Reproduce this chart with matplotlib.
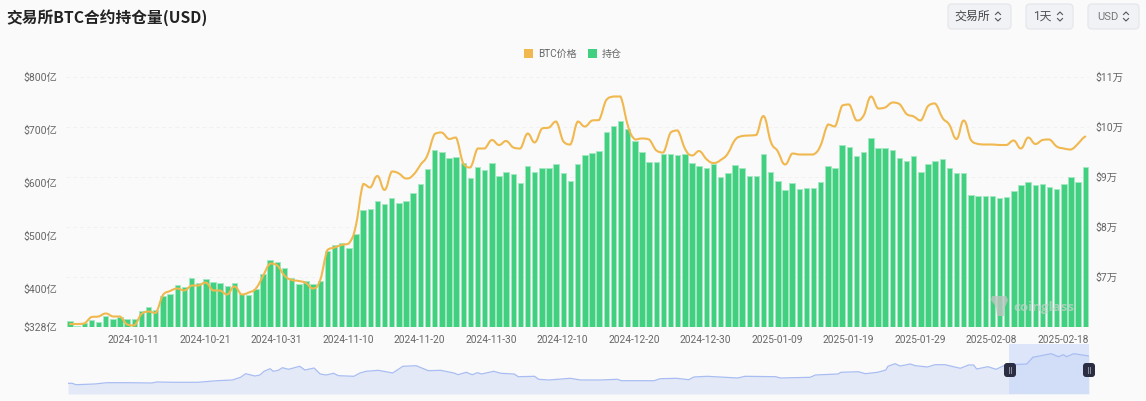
import numpy as np
import pandas as pd
import matplotlib
matplotlib.use("Agg")
import matplotlib.pyplot as plt
from matplotlib.patches import FancyBboxPatch, PathPatch, Patch, Polygon
from matplotlib.path import Path
from matplotlib.lines import Line2D
from matplotlib.transforms import blended_transform_factory

# ---------- data ----------
dates = pd.date_range("2024-10-02", "2025-02-21", freq="D")
open_interest = [339.3,329.9,335,340.6,336.9,348.2,343.1,346.9,343.1,342.5,358.8,365.2,360.1,387.1,390.3,407.9,404.1,419.9,411.6,418.6,
 413.5,411.6,404.8,410.5,390.3,387.8,399.7,428.1,453.9,451.3,440,420.5,409.7,414.8,409.2,415.4,471.5,482.8,486.6,478,
 504.5,548.3,550.8,565.3,559.7,571,562.7,565.3,580.4,597.4,626.9,662.7,659,647.6,648.4,637.1,609.3,629.5,624.4,637.1,
 613.1,621.2,616.3,599.3,631.4,621.2,628.8,628.2,635.2,618.2,603.1,635.2,652.2,656.5,660.3,696.7,706.9,717.5,702.4,678.6,
 658.4,640.1,639,654.6,654.6,652.7,654.6,637.1,631.4,628.8,635.2,610.6,618.8,633.3,628.2,613.1,613.1,654,621.2,604.2,
 586.1,599.9,588,591,591,601.2,631.4,628.2,671,667.3,651.4,658.4,685.4,665.4,666.5,662.2,646.5,641.4,651.4,620.1,
 635.7,642,645.2,628.2,618.2,619.3,577.2,575.9,575.9,574.8,571.6,574,585.3,595.5,601.8,595.5,598,592.3,588.5,597.4,
 611.2,601.8,629.5]
btc_price_k = [60.6,60.6,60.7,62.0,62.1,62.7,62.1,62.1,60.5,60.3,62.6,63.1,62.8,66.4,67.2,67.7,67.3,68.3,68.3,68.9,
 67.3,67.3,66.5,68.1,66.5,66.9,67.7,70.2,72.7,72.3,70.3,69.4,69.2,68.8,67.7,69.4,75.4,75.9,76.4,76.7,
 80.4,88.6,87.9,90.2,87.4,91.1,90.7,89.7,90.4,92.4,94.4,98.6,98.9,97.6,97.9,92.7,91.9,95.7,95.7,97.4,
 96.4,97.2,95.9,95.7,98.7,96.9,99.7,99.9,101.1,97.1,96.5,101.1,100.1,101.3,101.4,105.4,106.1,106.1,100.4,97.5,
 97.7,97.5,95.3,94.9,98.9,99.3,95.7,94.3,95.2,93.6,92.8,93.4,94.7,97.4,98.2,98.3,98.4,102.2,97.1,95.1,
 92.5,94.7,94.5,94.5,94.5,96.4,100.5,100.1,104.3,104.5,101.3,102.3,106.1,103.7,103.9,104.9,104.6,102.6,102.1,101.3,
 104.2,104.7,101.9,100.4,97.6,101.3,97.4,96.6,96.5,96.5,96.4,96.4,97.3,95.7,97.9,96.6,97.4,97.5,96.1,95.7,
 95.5,96.7,98.1]
overview_pct = [0,0.4,0.8,2.6,3.8,6,8.2,8.7,10.3,12.7,14.6,16.1,16.9,17.4,17.8,18.3,18.8,19.2,19.8,20.1,20.6,21,21.6,22.7,23.2,24.1,24.7,25.3,26,26.5,
 28,28.6,29.2,30.4,31.8,32.8,34.1,35.3,36.5,37.8,38.2,39,39.6,40.1,40.5,41.7,42.4,43.7,44.1,45.7,46.1,47.1,49.2,50.2,52.1,
 53.8,54.2,57.4,58,59.6,60.8,61.3,62.6,65.6,66.3,69.3,69.8,72.7,73.2,75.4,75.7,77.4,78.1,79.3,80.1,80.3,81,81.5,82.5,83,
 84.2,84.9,85.9,87.4,88.2,88.7,89,90.1,90.9,91.8,93.9,94.5,96.3,97,97.5,97.8,98.5,100]
overview_val = [10.7,10.7,9.3,10,11.3,11.3,11,12,11.7,11.7,13.3,14,16.7,20.3,19.3,18,19,22.7,25.3,22.7,23.7,26.3,24.7,27.7,24,26,20,19,20.7,18.3,
 17.7,21,22.7,23.7,21,27.7,28.3,23.3,23.7,21,19.3,21.7,19.3,21.3,20,22.7,20.7,20,17.3,17.7,14.7,14,15.7,14,14,
 14.7,13.3,13.3,15.3,15.7,14.3,17,17.7,16,17.7,17.3,16,16.7,19,20,21.7,22.3,20.3,21.7,24,27.7,30.3,28,30,28.3,
 27,29.3,29.3,25.7,29,29,25,27.3,24.7,29,30,36.7,40.3,37.3,39.3,37.3,40.3,38]
left_ticks = [328, 400, 500, 600, 700, 800]
left_labels = ["$328亿", "$400亿", "$500亿", "$600亿", "$700亿", "$800亿"]
right_ticks = [70, 80, 90, 100, 110]
right_labels = ["$7万", "$8万", "$9万", "$10万", "$11万"]
grid_levels = [60, 70, 80, 90, 100, 110]
title = "交易所BTC合约持仓量(USD)"
buttons = ["交易所", "1天", "USD"]

# ---------- style ----------
W, H = 1146, 401
BG = "#fafafa"
GREEN = "#41cf80"
ORANGE = "#f0b84e"
TXT = "#666666"
FONT = ["Roboto", "Noto Sans CJK SC", "DejaVu Sans"]
plt.rcParams["font.family"] = FONT

fig = plt.figure(figsize=(W / 100, H / 100), dpi=100, facecolor=BG)

def axpx(x0, y0, x1, y1, **kw):
    return fig.add_axes([x0 / W, 1 - y1 / H, (x1 - x0) / W, (y1 - y0) / H], **kw)

def fx(x): return x / W
def fy(y): return 1 - y / H

# ---------- main axes ----------
ax = axpx(66.4, 77, 1088.9, 327)
ax.set_facecolor("none")
idx = np.arange(len(dates))
ax.bar(idx, open_interest, width=0.76, color=GREEN, edgecolor="#a5e8c3", linewidth=0.7, zorder=2, bottom=0)
ax.set_xlim(-0.5, len(dates) - 0.5)
ax.set_ylim(328, 800)
ax.set_yticks(left_ticks, left_labels)
tick_idx = idx[9::10]
ax.set_xticks(tick_idx, [dates[i].strftime("%Y-%m-%d") for i in tick_idx])
ax.tick_params(axis="x", length=0, labelcolor=TXT, labelsize=7.3, pad=6)
ax.tick_params(axis="y", length=0, labelcolor=TXT, labelsize=7.5, pad=6.5)
ax.set_xticks(tick_idx - 0.15, [dates[i].strftime("%Y-%m-%d") for i in tick_idx])
for s in ax.spines.values():
    s.set_visible(False)

axr = ax.twinx()
axr.set_facecolor("none")
axr.set_ylim(60, 110)
axr.set_yticks(right_ticks, right_labels)
axr.tick_params(axis="y", length=0, labelcolor=TXT, labelsize=7.5, pad=5)
for s in axr.spines.values():
    s.set_visible(False)

trans = blended_transform_factory(ax.transAxes, axr.transData)
for g in grid_levels:
    ax.add_line(Line2D([0, 1], [g, g], transform=trans, color="#f1f1f1", lw=0.7, ls=(0, (4, 3)), zorder=1))

# smooth price curve, drawn as Bezier segments through the data points
def smooth_path(x, y, k=0.25):
    x = np.asarray(x, float); y = np.asarray(y, float)
    verts = [(x[0], y[0])]; codes = [Path.MOVETO]
    n = len(x)
    for i in range(n - 1):
        p = max(i - 1, 0); q = min(i + 2, n - 1)
        c1y = y[i] + (y[i + 1] - y[p]) * k
        c2y = y[i + 1] - (y[q] - y[i]) * k
        lo, hi = min(y[i], y[i + 1]), max(y[i], y[i + 1])
        c1y = np.clip(c1y, lo, hi); c2y = np.clip(c2y, lo, hi)
        verts += [(x[i] + 0.45, c1y), (x[i + 1] - 0.45, c2y), (x[i + 1], y[i + 1])]
        codes += [Path.CURVE4] * 3
    return Path(verts, codes)

axr.add_patch(PathPatch(smooth_path(idx, btc_price_k), fc="none", ec=ORANGE, lw=1.5,
                        capstyle="round", joinstyle="round", zorder=5))

# legend
handles = [Patch(fc=ORANGE, ec="none", label="BTC价格"), Patch(fc=GREEN, ec="none", label="持仓")]
fig.legend(handles=handles, loc="center", bbox_to_anchor=(fx(573), fy(54)), ncol=2, frameon=False,
           fontsize=7.2, labelcolor=TXT, handlelength=0.9, handleheight=0.9, handletextpad=0.55, columnspacing=1.05)

# watermark
fig.text(fx(1013), fy(307), "coinglass", fontsize=9.6, fontweight="bold", color="#c3d3ca", alpha=0.75,
         va="center", ha="left", family=["Open Sans"], zorder=6)
fig.add_artist(Polygon([(fx(x), fy(y)) for x, y in
    [(992, 296), (1006, 296), (1008, 300), (1005, 307), (1004, 316), (997, 316), (996, 307), (991, 300)]],
    closed=True, fc="#bcc5c0", ec="none", alpha=0.8, zorder=6))

# ---------- title ----------
fig.text(fx(6.5), fy(18), title, fontsize=11.3, fontweight="bold", color="#222222", va="center", ha="left",
         family=["Noto Sans CJK SC", "DejaVu Sans"])

# ---------- selector buttons ----------
bg = fig.add_axes([0, 0, 1, 1], zorder=-1); bg.axis("off")
bg.set_xlim(0, W); bg.set_ylim(H, 0)
boxes = [(948, 1011), (1026, 1073), (1088, 1139)]
for (x0, x1), lab, col, fs in zip(boxes, buttons, ["#444444", "#555555", "#777777"], [8.6, 8.6, 8.0]):
    bg.add_patch(FancyBboxPatch((x0, 4), x1 - x0, 25, boxstyle="round,pad=0,rounding_size=4",
                                fc="#f0f2f5", ec="#e6e8ec", lw=1))
    bg.text(x1 - 21, 16.5, lab, ha="right", va="center", fontsize=fs, color=col)
    cx = x1 - 13
    bg.plot([cx - 2.5, cx, cx + 2.5], [14.5, 12, 14.5], color="#555555", lw=0.8)
    bg.plot([cx - 2.5, cx, cx + 2.5], [18.5, 21, 18.5], color="#555555", lw=0.8)

# ---------- overview strip ----------
ov = axpx(68, 344, 1089, 394)
ov.set_facecolor("none")
ov.fill_between(overview_pct, 0, overview_val, color="#e3e9f7", lw=0)
ov.plot(overview_pct, overview_val, color="#a9bdf2", lw=0.9)
ov.axvspan(92.2, 100, color="#c5d4fa", alpha=0.55, lw=0)
ov.set_xlim(0, 100); ov.set_ylim(0, 50); ov.axis("off")

for xc in (1010, 1089):
    handle = FancyBboxPatch((xc - 6, 363), 12, 14, boxstyle="round,pad=0,rounding_size=3",
                            transform=bg.transData, fc="#2b2e42", ec="none", zorder=8)
    fig.add_artist(handle)
    for dx in (-1.2, 1.2):
        fig.add_artist(Line2D([fx(xc + dx)] * 2, [fy(367), fy(373)], color="#8b8e9e", lw=0.7, zorder=9))

fig.savefig("out.png", dpi=100, facecolor=BG)
